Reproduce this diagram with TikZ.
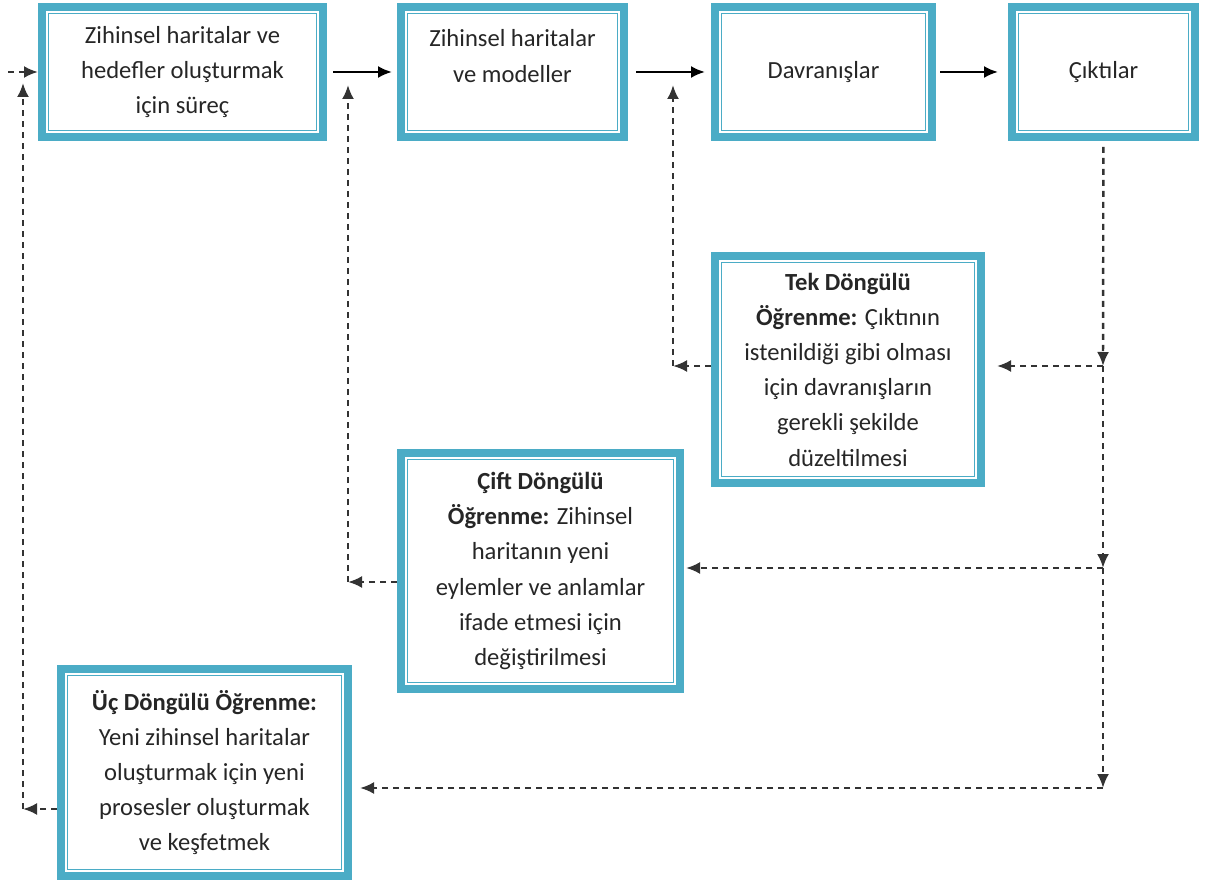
\documentclass[tikz,border=0pt]{standalone}
\usepackage{fontspec}
\setmainfont{Carlito}
\usepackage{tikz}
\usetikzlibrary{arrows.meta}
\definecolor{boxteal}{HTML}{4BACC6}
\definecolor{dashgray}{HTML}{333333}

\begin{document}
\begin{tikzpicture}[x=0.5pt,y=0.5pt]
                \tikzstyle{every node}+=[font=\fontsize{12.3}{17.6}\selectfont, text=black!85, align=center, inner sep=0pt]
                \tikzstyle{loopbox}=[draw=boxteal, line width=4pt,
                    path picture={\draw [boxteal, line width=0.6pt] ([shift={(3.4pt,3.4pt)}]path picture bounding box.south west) rectangle ([shift={(-3.4pt,-3.4pt)}]path picture bounding box.north east);}]
                \tikzstyle{flow}=[-{Latex[length=7pt,width=6pt]}, line width=1.1pt, black]
                \tikzstyle{feedback}=[flow, dashgray, line width=1.2pt, dash pattern=on 3pt off 2.5pt]
                \useasboundingbox (0,0) rectangle (1208,-881);
                \node [loopbox, minimum width=140.5pt, minimum height=65pt] (proc) at (182.5,-72) {Zihinsel haritalar ve\\hedefler oluşturmak\\için süreç};
                \node [loopbox, minimum width=111.5pt, minimum height=65pt, text depth=16pt] (maps) at (512.5,-72) {Zihinsel haritalar\\ve modeller};
                \node [loopbox, minimum width=108.5pt, minimum height=65pt] (beh) at (823.5,-72) {Davranışlar};
                \node [loopbox, minimum width=91.5pt, minimum height=65pt] (out) at (1103.5,-72) {Çıktılar};
                \node [loopbox, minimum width=133pt, minimum height=113.5pt] (tek) at (848,-369.5) {\textbf{Tek Döngülü}\\\textbf{Öğrenme:} Çıktının\\istenildiği gibi olması\\için davranışların\\gerekli şekilde\\düzeltilmesi};
                \node [loopbox, minimum width=139.5pt, minimum height=118pt] (cift) at (540.5,-571) {\textbf{Çift Döngülü}\\\textbf{Öğrenme:} Zihinsel\\haritanın yeni\\eylemler ve anlamlar\\ifade etmesi için\\değiştirilmesi};
                \node [loopbox, minimum width=143.5pt, minimum height=103.5pt] (uc) at (204.5,-772.5) {\textbf{Üç Döngülü Öğrenme:}\\Yeni zihinsel haritalar\\oluşturmak için yeni\\prosesler oluşturmak\\ve keşfetmek};
                \draw [flow, shorten <=3pt, shorten >=2.5pt] (proc) -- (maps);
                \draw [flow, shorten <=4pt, shorten >=3pt] (maps) -- (beh);
                \draw [flow, shorten <=2pt, shorten >=5pt] (beh) -- (out);
                \coordinate (start) at (8,-72);
                \draw [feedback] (start) -- (proc);
                \coordinate (r1) at (1103,-366);
                \coordinate (r2) at (1103,-568);
                \coordinate (r3) at (1103,-788);
                \draw [feedback, shorten <=3pt] (out) -- (r1);
                \draw [feedback] (r1) -- (r2);
                \draw [feedback] (r2) -- (r3);
                \draw [feedback, shorten >=6pt] (r1) -- (r1 -| tek.east);
                \draw [feedback, shorten >=1pt] (r2) -- (r2 -| cift.east);
                \draw [feedback, shorten >=4pt] (r3) -- (r3 -| uc.east);
                \coordinate (t1) at (673,-366);
                \coordinate (t2) at (673,-85);
                \draw [feedback] (tek.west |- t1) -- (t1);
                \draw [feedback] (t1) -- (t2);
                \coordinate (c1) at (348,-582);
                \coordinate (c2) at (348,-85);
                \draw [feedback] (cift.west |- c1) -- (c1);
                \draw [feedback] (c1) -- (c2);
                \coordinate (u1) at (23,-809);
                \coordinate (u2) at (23,-83);
                \draw [feedback] (uc.west |- u1) -- (u1);
                \draw [feedback] (u1) -- (u2);
\end{tikzpicture}
\end{document}
